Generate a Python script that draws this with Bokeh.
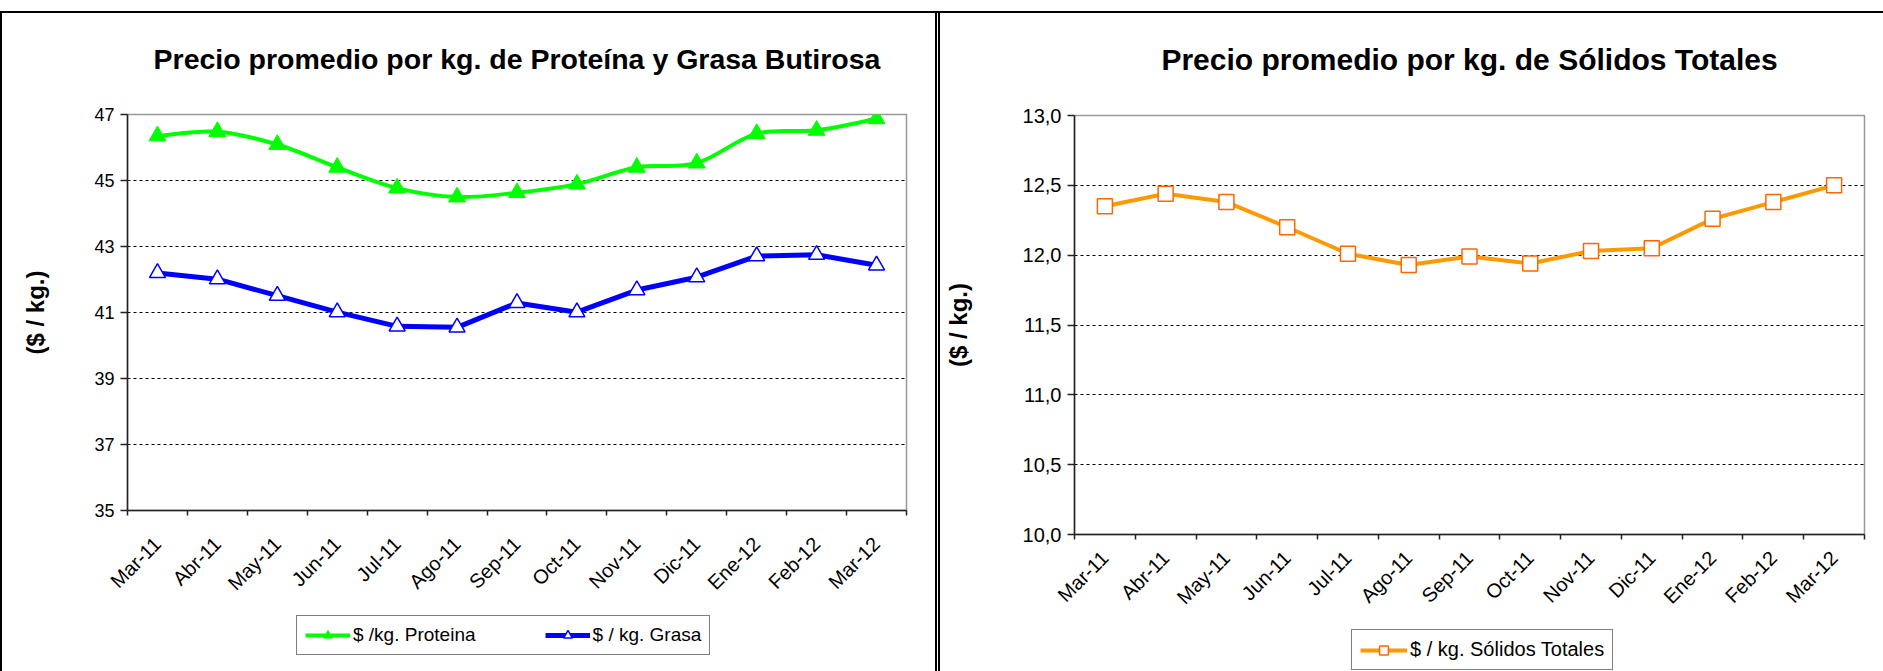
import math
from bokeh.plotting import figure
from bokeh.models import (FixedTicker, CustomJSTickFormatter, Range1d, Legend,
                          LegendItem)
from bokeh.layouts import row, column
from bokeh.embed import file_html
from bokeh.resources import INLINE

months = ["Mar-11", "Abr-11", "May-11", "Jun-11", "Jul-11", "Ago-11", "Sep-11",
          "Oct-11", "Nov-11", "Dic-11", "Ene-12", "Feb-12", "Mar-12"]
proteina = [46.35, 46.48, 46.09, 45.40, 44.77, 44.50, 44.63, 44.89, 45.40, 45.53,
            46.42, 46.52, 46.87]
grasa = [42.20, 42.01, 41.51, 41.01, 40.58, 40.55, 41.29, 41.01, 41.68, 42.07,
         42.71, 42.75, 42.43]
solidos = [12.35, 12.44, 12.38, 12.20, 12.01, 11.93, 11.99, 11.94, 12.03, 12.05,
           12.26, 12.38, 12.50]
left_yticks = [35, 37, 39, 41, 43, 45, 47]
right_yticks = [10.0, 10.5, 11.0, 11.5, 12.0, 12.5, 13.0]

FONT = "Liberation Sans"
n = len(months)
xs = [i + 0.5 for i in range(n)]

GREEN, BLUE, ORANGE, ORANGE_EDGE = "#00FF00", "#0000FF", "#FF9900", "#FF6600"


def make_fig(width, height, ml, mr, mt, mb, title, title_size, title_standoff,
             y0, y1, yticks, yfmt, ytick_size, ylabel_standoff, xlabel_standoff, styles):
    p = figure(width=width, height=height, output_backend="svg", toolbar_location=None,
               x_range=Range1d(0, n), y_range=Range1d(y0, y1),
               min_border_left=ml, min_border_right=mr,
               min_border_top=mt, min_border_bottom=mb, title=title,
               styles=styles)
    p.background_fill_color = "white"
    p.border_fill_color = "white"
    p.border_fill_alpha = 0
    p.outline_line_color = "#999999"
    p.outline_line_width = 1.5
    p.title.text_font = FONT
    p.title.text_font_size = title_size
    p.title.text_font_style = "bold"
    p.title.text_color = "black"
    p.title.align = "center"
    p.title.standoff = title_standoff
    p.xgrid.visible = False
    p.ygrid.grid_line_color = "black"
    p.ygrid.grid_line_width = 1
    p.ygrid.grid_line_dash = "3 3"
    p.ygrid.ticker = FixedTicker(ticks=yticks)

    xa = p.xaxis[0]
    xa.ticker = FixedTicker(ticks=xs, minor_ticks=list(range(n + 1)))
    xa.formatter = CustomJSTickFormatter(args=dict(labels=months),
                                         code="return labels[Math.floor(tick)];")
    xa.major_tick_out = 0
    xa.major_tick_in = 0
    xa.minor_tick_out = 5
    xa.minor_tick_in = 0
    xa.major_label_orientation = math.pi / 4
    xa.major_label_standoff = xlabel_standoff
    xa.major_label_text_font_size = "20px"

    ya = p.yaxis[0]
    ya.ticker = FixedTicker(ticks=yticks)
    ya.formatter = yfmt
    ya.major_tick_out = 7
    ya.major_tick_in = 0
    ya.minor_tick_out = 0
    ya.minor_tick_in = 0
    ya.major_label_standoff = 6
    ya.major_label_text_font_size = ytick_size
    ya.axis_label = "($ / kg.)"
    ya.axis_label_text_font = FONT
    ya.axis_label_text_font_size = "24px"
    ya.axis_label_text_font_style = "bold"
    ya.axis_label_text_color = "black"
    ya.axis_label_standoff = ylabel_standoff

    for ax in (xa, ya):
        ax.axis_line_color = "#222222"
        ax.axis_line_width = 1.5
        ax.major_tick_line_color = "#222222"
        ax.major_tick_line_width = 1.5
        ax.minor_tick_line_color = "#222222"
        ax.minor_tick_line_width = 1.5
        ax.major_label_text_font = FONT
        ax.major_label_text_color = "black"
    return p


def legend_strip(width, height):
    # transparent strip laid over the bottom of a chart, holding only its legend
    lg = figure(width=width, height=height, output_backend="svg", toolbar_location=None,
                x_range=Range1d(0, 1), y_range=Range1d(0, 1),
                x_axis_type=None, y_axis_type=None, min_border=0,
                styles={"margin-top": f"-{height}px"})
    lg.outline_line_color = None
    lg.background_fill_alpha = 0
    lg.border_fill_alpha = 0
    lg.xgrid.visible = False
    lg.ygrid.visible = False
    return lg


def style_legend(leg, size):
    leg.padding = 8
    leg.margin = 0
    leg.glyph_height = 22
    leg.label_height = 22
    leg.label_standoff = 3
    leg.label_text_font = FONT
    leg.label_text_font_size = size
    leg.label_text_color = "black"
    leg.border_line_color = "black"
    leg.border_line_width = 1.5
    leg.background_fill_color = "white"
    leg.background_fill_alpha = 1


H = 671
# ---------------- left chart ----------------
W1 = 937
p1 = make_fig(W1, H, 127, 31, 113, 161,
              "Precio promedio por kg. de Proteína y Grasa Butirosa", "28.5px", 80,
              35, 47, left_yticks,
              CustomJSTickFormatter(code="return tick.toFixed(0);"), "18px", 42, 25,
              {"box-shadow": "inset 0px 11px 0px 0px #ffffff, inset 0px 13px 0px 0px #000000, "
                             "inset -2px 0px 0px 0px #000000, inset 2px 0px 0px 0px #000000"})

# smooth (Excel-style) curve for proteina: Catmull-Rom -> cubic Bezier from the data
x0s, y0s, x1s, y1s, cx0, cy0, cx1, cy1 = [], [], [], [], [], [], [], []
for i in range(n - 1):
    xa_, ya_ = xs[max(i - 1, 0)], proteina[max(i - 1, 0)]
    xb, yb = xs[i], proteina[i]
    xc, yc = xs[i + 1], proteina[i + 1]
    xd, yd = xs[min(i + 2, n - 1)], proteina[min(i + 2, n - 1)]
    x0s.append(xb); y0s.append(yb); x1s.append(xc); y1s.append(yc)
    cx0.append(xb + (xc - xa_) / 6); cy0.append(yb + (yc - ya_) / 6)
    cx1.append(xc - (xd - xb) / 6); cy1.append(yc - (yd - yb) / 6)

p1.bezier(x0=x0s, y0=y0s, x1=x1s, y1=y1s, cx0=cx0, cy0=cy0, cx1=cx1, cy1=cy1,
          line_color=GREEN, line_width=4, line_cap="round")
p1.scatter(xs, proteina, marker="triangle", size=17, fill_color=GREEN,
           line_color=GREEN, line_width=1)
p1.line(xs, grasa, line_color=BLUE, line_width=5, line_join="round")
p1.scatter(xs, grasa, marker="triangle", size=16, fill_color="white",
           line_color=BLUE, line_width=1.5)

LH1 = 61
lg1 = legend_strip(W1, LH1)
# the strip's y range is 0..1, so these copies of the series stay out of view;
# they only give the legend its line + marker samples
gl = lg1.line(xs, proteina, line_color=GREEN, line_width=4)
gp = lg1.scatter(xs, proteina, marker="triangle", size=17, fill_color=GREEN,
                 line_color=GREEN, line_width=1)
bl = lg1.line(xs, grasa, line_color=BLUE, line_width=5)
bp = lg1.scatter(xs, grasa, marker="triangle", size=16, fill_color="white",
                 line_color=BLUE, line_width=1.5)
leg1 = Legend(items=[LegendItem(label="$ /kg. Proteina", renderers=[gl, gp]),
                     LegendItem(label="$ / kg. Grasa", renderers=[bl, bp])],
              orientation="horizontal", location=(169, 16))
style_legend(leg1, "19px")
leg1.glyph_width = 45
leg1.spacing = 69
lg1.add_layout(leg1, "center")

# ---------------- right chart ----------------
W2 = 946
p2 = make_fig(W2, H, 137, 19, 114, 137,
              "Precio promedio por kg. de Sólidos Totales", "30px", 80,
              10, 13, right_yticks,
              CustomJSTickFormatter(code="return tick.toFixed(1).replace('.', ',');"),
              "20px", 48, 15,
              {"box-shadow": "inset 0px 11px 0px 0px #ffffff, inset 0px 13px 0px 0px #000000, "
                             "inset 1px 0px 0px 0px #ffffff, inset 3px 0px 0px 0px #000000"})
p2.line(xs, solidos, line_color=ORANGE, line_width=4, line_join="round")
p2.scatter(xs, solidos, marker="square", size=15, fill_color="white",
           line_color=ORANGE_EDGE, line_width=1.5)

LH2 = 46
lg2 = legend_strip(W2, LH2)
ol = lg2.line(xs, solidos, line_color=ORANGE, line_width=4)
op = lg2.scatter(xs, solidos, marker="square", size=15, fill_color="white",
                 line_color=ORANGE_EDGE, line_width=1.5)
leg2 = Legend(items=[LegendItem(label="$ / kg. Sólidos Totales", renderers=[ol, op])],
              orientation="horizontal", location=(277, 1))
style_legend(leg2, "20px")
leg2.glyph_width = 47
lg2.add_layout(leg2, "center")

layout = row(column(p1, lg1), column(p2, lg2))
open("out.html", "w").write(file_html(layout, INLINE))
